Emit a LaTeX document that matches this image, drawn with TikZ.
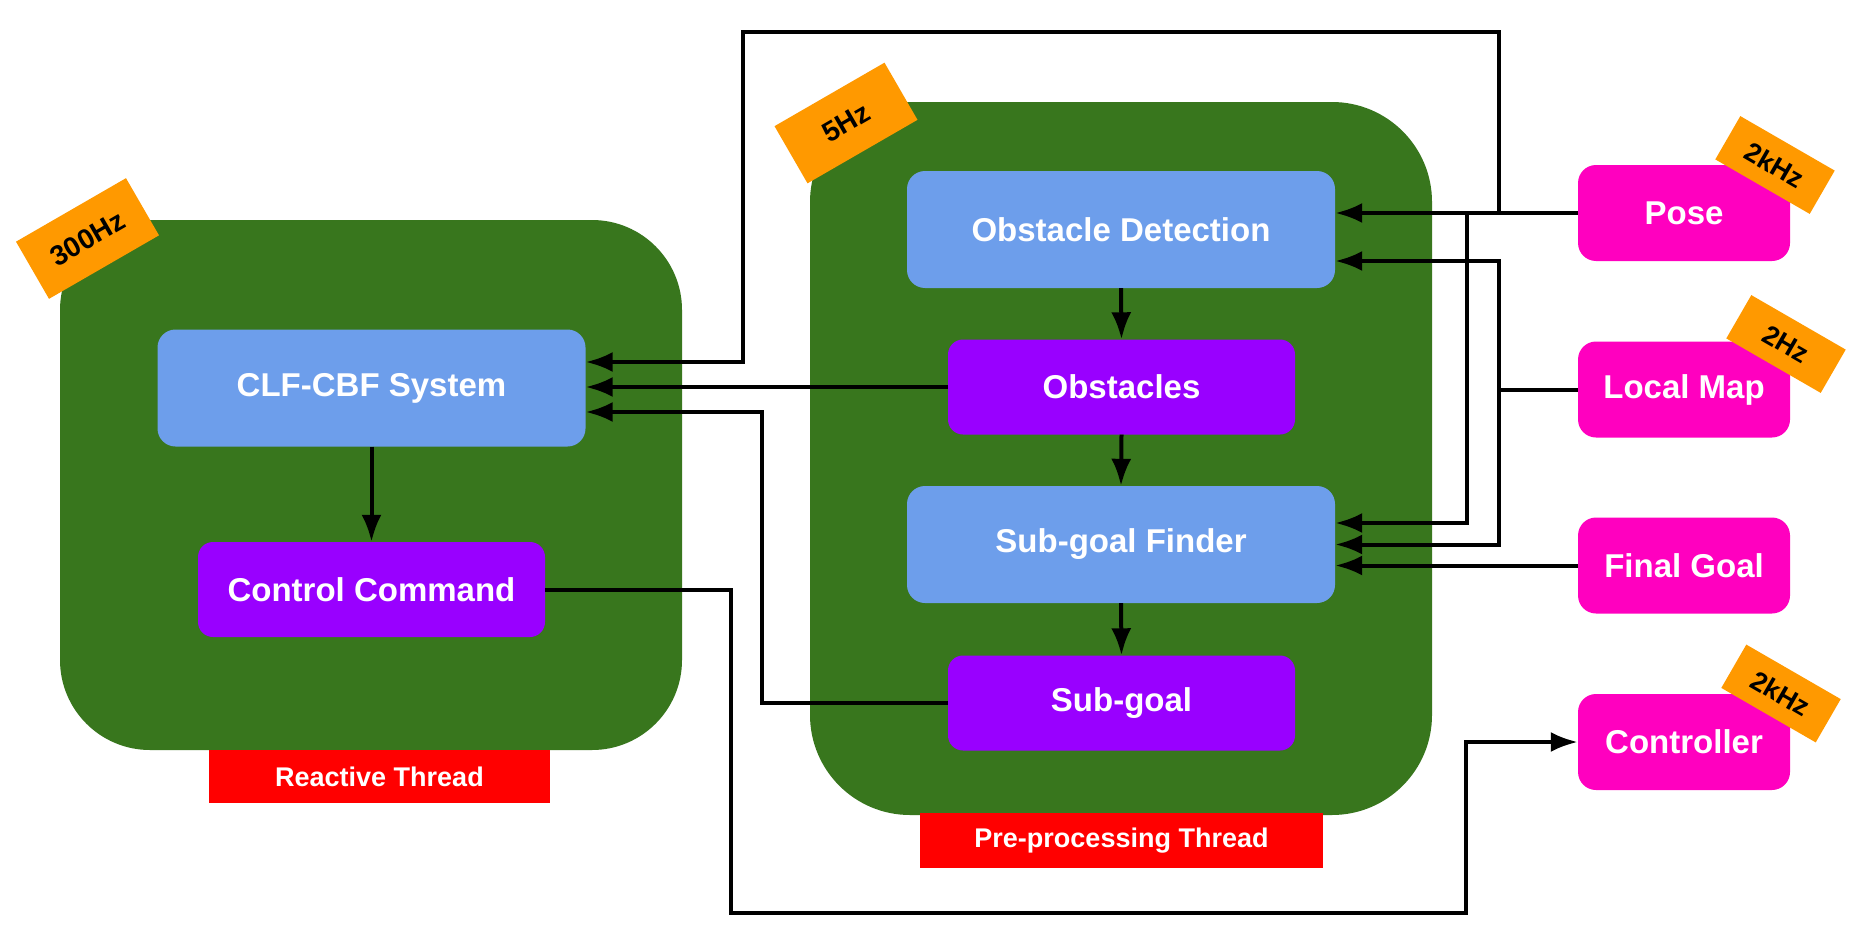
\documentclass[tikz,border=0pt]{standalone}
\usepackage{fontspec}
\setmainfont{Liberation Sans}
\usetikzlibrary{arrows.meta}
\definecolor{dgreen}{HTML}{38761D}
\definecolor{lblue}{HTML}{6D9EEB}
\definecolor{vpurple}{HTML}{9900FF}
\definecolor{hpink}{HTML}{FF00BF}
\definecolor{torange}{HTML}{FF9900}
\definecolor{lred}{HTML}{FF0000}
\begin{document}
\begin{tikzpicture}[x=1pt,y=-1pt,
  thread/.style={fill=dgreen, draw=none, inner sep=0pt},
  mainbox/.style={text=white, inner sep=0pt, font=\fontsize{33}{40}\selectfont\bfseries},
  bluebox/.style={mainbox, fill=lblue, rounded corners=18pt, minimum width=428pt, minimum height=117pt},
  purplebox/.style={mainbox, fill=vpurple, rounded corners=15pt, minimum width=347pt, minimum height=95pt},
  pinkbox/.style={mainbox, fill=hpink, rounded corners=18pt, minimum width=212pt, minimum height=96pt},
  threadlabel/.style={fill=lred, text=white, inner sep=0pt, font=\fontsize{27}{32}\selectfont\bfseries},
  bigtag/.style={fill=torange, text=black, inner sep=0pt, minimum width=127pt, minimum height=66pt, font=\fontsize{28}{32}\selectfont\bfseries},
  smalltag/.style={fill=torange, text=black, inner sep=0pt, minimum width=109pt, minimum height=50pt, font=\fontsize{27}{32}\selectfont\bfseries},
  conn/.style={draw=black, line width=4pt},
  arr/.style={draw=black, line width=4pt, -{Latex[length=27pt,width=20pt]}}
]
\useasboundingbox[fill=white] (0,0) rectangle (1851,942);

% thread containers
\node[thread, minimum width=622pt, minimum height=530pt, rounded corners=90pt] (lt) at (371,485) {};
\node[thread, minimum width=622pt, minimum height=713pt, rounded corners=100pt] (mt) at (1121,458.5) {};
\node[threadlabel, minimum width=341pt, minimum height=53pt] (ltl) at (379.5,776.5) {Reactive Thread};
\node[threadlabel, minimum width=403pt, minimum height=55pt] (mtl) at (1121.5,840.5) {Pre-processing Thread};

% boxes
\node[bluebox] (clf) at (371.5,388) {CLF-CBF System};
\node[purplebox] (cc) at (371.5,589.5) {Control Command};
\node[bluebox] (od) at (1121,229.5) {Obstacle Detection};
\node[purplebox] (obs) at (1121.5,387) {Obstacles};
\node[bluebox] (sgf) at (1121,544.5) {Sub-goal Finder};
\node[purplebox] (sg) at (1121.5,703) {Sub-goal};
\node[pinkbox] (pose) at (1684,213) {Pose};
\node[pinkbox] (lm) at (1684,389.5) {Local Map};
\node[pinkbox] (fg) at (1684,565.5) {Final Goal};
\node[pinkbox] (ctrl) at (1684,742) {Controller};

% tags
\node[bigtag, rotate=30] (t300) at (87.5,238.5) {300Hz};
\node[bigtag, rotate=30] (t5) at (846,123) {5Hz};
\node[smalltag, rotate=-30] (tpose) at (1775,165) {2kHz};
\node[smalltag, rotate=-30] (tlm) at (1786,344) {2Hz};
\node[smalltag, rotate=-30] (tctrl) at (1781,693.5) {2kHz};

% junctions
\coordinate (jp1) at (1499,213);
\coordinate (jp2) at (1467,213);
\coordinate (jlm) at (1499,389.5);

% internal arrows
\draw[arr] (clf.south) -- (cc.north);
\draw[arr] (od.south) -- (obs.north);
\draw[arr] (obs.south) -- (sgf.north);
\draw[arr] (sgf.south) -- (sg.north);

% pose
\draw[arr] (pose.west) -- (pose.west -| od.east);
\draw[arr] (jp1) -- (1499,32) -- (743,32) -- (743,362) -- ([yshift=26pt]clf.east);
\draw[arr] (jp2) |- ([yshift=21.5pt]sgf.east);

% local map
\draw[conn] (lm.west) -- (jlm);
\draw[arr] (jlm) |- ([yshift=-31.5pt]od.east);
\draw[arr] (jlm) |- (sgf.east);

% final goal
\draw[arr] (fg.west) -- (fg.west -| sgf.east);

% to CLF
\draw[arr] (obs.west) -- (obs.west -| clf.east);
\draw[arr] (sg.west) -| (762,412) -- ([yshift=-24pt]clf.east);

% control command to controller
\draw[arr] (cc.east) -| (731,913) -| (1466,742) -- (ctrl.west);
\end{tikzpicture}
\end{document}
